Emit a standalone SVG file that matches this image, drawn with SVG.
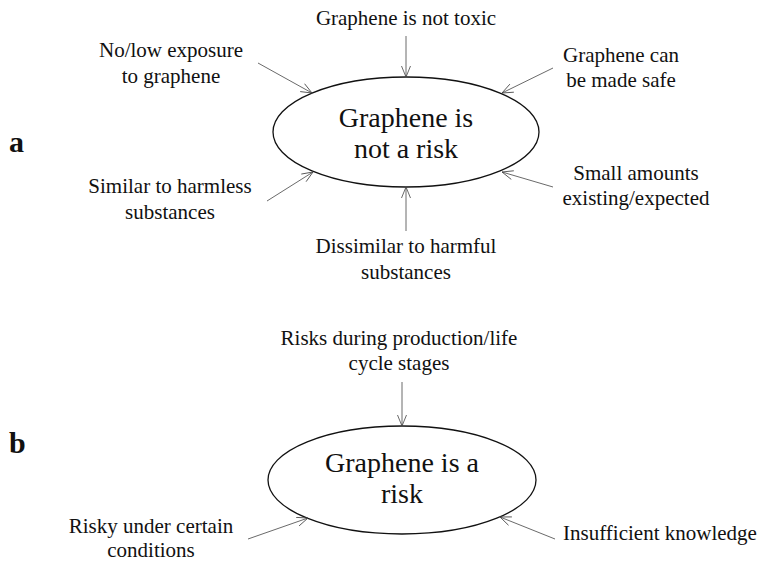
<svg xmlns="http://www.w3.org/2000/svg" width="770" height="563" viewBox="0 0 770 563">
<defs>
<marker id="ah" markerUnits="userSpaceOnUse" markerWidth="14" markerHeight="12" refX="12" refY="5" orient="auto">
<path d="M1,0.5 L12,5 L1,9.5" fill="none" stroke="#444" stroke-width="0.8"/>
</marker>
<style>
.lbl{font-family:"Liberation Serif","Times New Roman",serif;font-size:21px;fill:#111;text-anchor:middle}
.big{font-family:"Liberation Serif","Times New Roman",serif;font-size:28px;fill:#111;text-anchor:middle}
.tag{font-family:"Liberation Serif","Times New Roman",serif;font-size:30px;font-weight:bold;fill:#111}
.node{fill:#fff;stroke:#111;stroke-width:1.3}
.conn line{stroke:#444;stroke-width:0.8;marker-end:url(#ah)}
</style>
</defs>
<rect width="770" height="563" fill="#fff"/>
<text class="tag" x="9" y="152">a</text>
<text class="tag" x="9" y="453">b</text>
<g id="riskA">
<ellipse class="node" cx="406" cy="132" rx="133" ry="55"/>
<text class="big" x="406" y="127">Graphene is</text>
<text class="big" x="406" y="158">not a risk</text>
</g>
<g id="riskB">
<ellipse class="node" cx="402" cy="480" rx="134" ry="54"/>
<text class="big" x="402" y="472">Graphene is a</text>
<text class="big" x="402" y="503">risk</text>
</g>
<g id="notToxic"><text class="lbl" x="406" y="25">Graphene is not toxic</text></g>
<g id="lowExposure"><text class="lbl" x="171" y="57">No/low exposure</text><text class="lbl" x="171" y="83">to graphene</text></g>
<g id="madeSafe"><text class="lbl" x="621" y="62">Graphene can</text><text class="lbl" x="621" y="87">be made safe</text></g>
<g id="smallAmounts"><text class="lbl" x="636" y="180">Small amounts</text><text class="lbl" x="636" y="205">existing/expected</text></g>
<g id="similar"><text class="lbl" x="170" y="193">Similar to harmless</text><text class="lbl" x="170" y="219">substances</text></g>
<g id="dissimilar"><text class="lbl" x="406" y="253">Dissimilar to harmful</text><text class="lbl" x="406" y="279">substances</text></g>
<g id="lifecycle"><text class="lbl" x="399" y="345">Risks during production/life</text><text class="lbl" x="399" y="370">cycle stages</text></g>
<g id="conditions"><text class="lbl" x="151" y="533">Risky under certain</text><text class="lbl" x="151" y="557">conditions</text></g>
<g id="knowledge"><text class="lbl" x="660" y="540">Insufficient knowledge</text></g>
<g id="connectors" class="conn">
<line x1="406" y1="36" x2="406" y2="77"/>
<line x1="258" y1="63" x2="312" y2="93"/>
<line x1="553" y1="68" x2="502" y2="93"/>
<line x1="553" y1="187" x2="502" y2="172"/>
<line x1="267" y1="201" x2="313" y2="172"/>
<line x1="406" y1="231" x2="406" y2="187"/>
<line x1="402" y1="382" x2="402" y2="426"/>
<line x1="248" y1="539" x2="308" y2="518"/>
<line x1="555" y1="539" x2="500" y2="517"/>
</g>
</svg>
